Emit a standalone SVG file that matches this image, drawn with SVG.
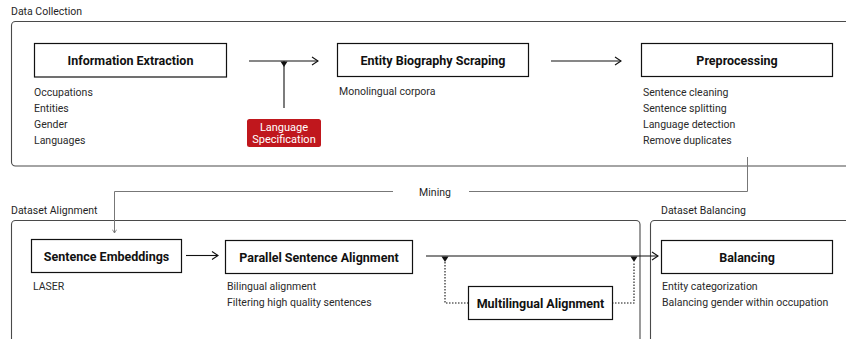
<svg xmlns="http://www.w3.org/2000/svg" width="846" height="339" viewBox="0 0 846 339">
  <style>
    text { font-family: Roboto, "Liberation Sans", sans-serif; fill: #1f1f1f; }
    .section { fill: none; stroke: #4a4a4a; stroke-width: 1.1; }
    .section-label { font-size: 10.5px; }
    .node-box { fill: #fff; stroke: #111; stroke-width: 1.2; }
    .title { font-size: 12.5px; font-weight: 700; text-anchor: middle; fill: #111; }
    .item { font-size: 10.5px; fill: #2a2a2a; }
    .flow { fill: none; stroke: #111; stroke-width: 1.1; }
    .dotted { fill: none; stroke: #111; stroke-width: 1.1; stroke-dasharray: 1.5 1.5; }
    .mining { fill: none; stroke: #777; stroke-width: 1; }
    .tag { fill: #c0171d; }
    .tag-text { font-size: 11px; font-weight: 400; fill: #fff; text-anchor: middle; }
  </style>
  <defs>
    <marker id="open-arrow" viewBox="0 0 8 10" refX="7" refY="5" markerWidth="8" markerHeight="10" markerUnits="userSpaceOnUse" orient="auto">
      <path d="M1,1 L7,5 L1,9" fill="none" stroke="#111" stroke-width="1.1"/>
    </marker>
    <marker id="small-arrow" viewBox="0 0 6 6" refX="5" refY="3" markerWidth="5" markerHeight="5" markerUnits="userSpaceOnUse" orient="auto">
      <path d="M1,0.5 L5,3 L1,5.5" fill="none" stroke="#777" stroke-width="1"/>
    </marker>
  </defs>

  <!-- Section frames -->
  <g id="data-collection">
    <text class="section-label" x="11" y="15">Data Collection</text>
    <rect class="section" x="11.5" y="21.5" width="850" height="144.5" rx="4"/>
  </g>
  <g id="dataset-alignment">
    <text class="section-label" x="11" y="214">Dataset Alignment</text>
    <rect class="section" x="11.5" y="220.5" width="628.5" height="140" rx="4"/>
  </g>
  <g id="dataset-balancing">
    <text class="section-label" x="661" y="214">Dataset Balancing</text>
    <rect class="section" x="650.5" y="220.5" width="220" height="140" rx="4"/>
  </g>

  <!-- Connectors -->
  <g id="connectors">
    <!-- extraction to scraping, with language specification joining -->
    <line class="flow" x1="249" y1="61" x2="318" y2="61" marker-end="url(#open-arrow)"/>
    <line class="flow" x1="284" y1="61" x2="284" y2="108"/>
    <path d="M280.5,61.5 L287.5,61.5 L284,67 Z" fill="#111"/>
    <!-- scraping to preprocessing -->
    <line class="flow" x1="551" y1="61" x2="621" y2="61" marker-end="url(#open-arrow)"/>
    <!-- mining: preprocessing down to sentence embeddings -->
    <path class="mining" d="M747.5,157 V191.5 H469"/>
    <path class="mining" d="M393,191.5 H114.5 V233" marker-end="url(#small-arrow)"/>
    <text x="435" y="195.5" font-size="10.5" text-anchor="middle">Mining</text>
    <!-- embeddings to parallel alignment -->
    <line class="flow" x1="186" y1="255.5" x2="218" y2="255.5" marker-end="url(#open-arrow)"/>
    <!-- parallel alignment to balancing, with multilingual branch -->
    <line class="flow" x1="426" y1="256" x2="658" y2="256" marker-end="url(#open-arrow)"/>
    <path d="M441.5,256.5 L448.5,256.5 L445,262 Z" fill="#111"/>
    <path d="M630.5,256.5 L637.5,256.5 L634,262 Z" fill="#111"/>
    <path class="dotted" d="M445,262 V303 H468"/>
    <path class="dotted" d="M612,303 H634 V262"/>
  </g>

  <!-- Nodes -->
  <g id="information-extraction">
    <rect class="node-box" x="34.5" y="43.5" width="192" height="33.5"/>
    <text class="title" x="130.5" y="65">Information Extraction</text>
    <text class="item" x="34" y="96">Occupations</text>
    <text class="item" x="34" y="112">Entities</text>
    <text class="item" x="34" y="128">Gender</text>
    <text class="item" x="34" y="144">Languages</text>
  </g>
  <g id="language-specification">
    <rect class="tag" x="247" y="119" width="74" height="28" rx="2.5"/>
    <text class="tag-text" x="284" y="130.5">Language</text>
    <text class="tag-text" x="284" y="143">Specification</text>
  </g>
  <g id="entity-biography-scraping">
    <rect class="node-box" x="337.5" y="43.5" width="191" height="33"/>
    <text class="title" x="433" y="65">Entity Biography Scraping</text>
    <text class="item" x="339" y="94.5">Monolingual corpora</text>
  </g>
  <g id="preprocessing">
    <rect class="node-box" x="641.5" y="43.5" width="191" height="33"/>
    <text class="title" x="737" y="65">Preprocessing</text>
    <text class="item" x="643" y="96">Sentence cleaning</text>
    <text class="item" x="643" y="112">Sentence splitting</text>
    <text class="item" x="643" y="128">Language detection</text>
    <text class="item" x="643" y="144">Remove duplicates</text>
  </g>
  <g id="sentence-embeddings">
    <rect class="node-box" x="31.5" y="239.5" width="150" height="33"/>
    <text class="title" x="106.5" y="261">Sentence Embeddings</text>
    <text class="item" x="33" y="290">LASER</text>
  </g>
  <g id="parallel-sentence-alignment">
    <rect class="node-box" x="225.5" y="240.5" width="187" height="33"/>
    <text class="title" x="319" y="262">Parallel Sentence Alignment</text>
    <text class="item" x="227" y="290">Bilingual alignment</text>
    <text class="item" x="227" y="306">Filtering high quality sentences</text>
  </g>
  <g id="multilingual-alignment">
    <rect class="node-box" x="468.5" y="286.5" width="144" height="33"/>
    <text class="title" x="540.5" y="308">Multilingual Alignment</text>
  </g>
  <g id="balancing">
    <rect class="node-box" x="661.5" y="240.5" width="171" height="33"/>
    <text class="title" x="747" y="262">Balancing</text>
    <text class="item" x="662" y="290">Entity categorization</text>
    <text class="item" x="662" y="306">Balancing gender within occupation</text>
  </g>
</svg>
